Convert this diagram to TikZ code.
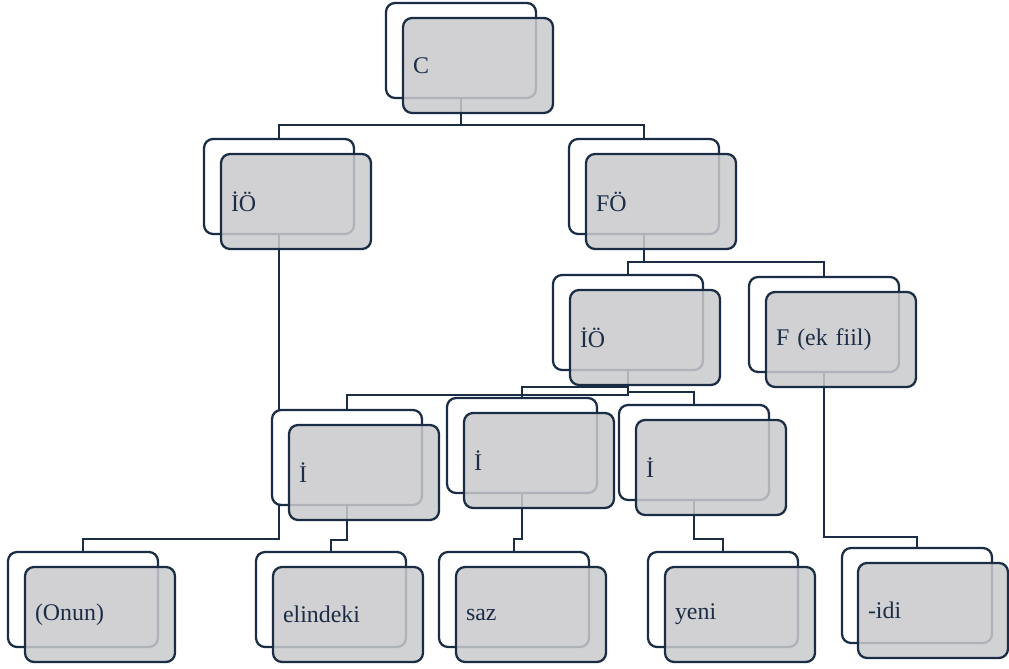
\documentclass[tikz,border=0pt]{standalone}
\usepackage{fontspec}
\setmainfont{Liberation Serif}
\usepackage{xcolor}
\usetikzlibrary{backgrounds}
\definecolor{navy}{HTML}{1B2D45}
\definecolor{boxgray}{HTML}{C9CACD}

\begin{document}
\begin{tikzpicture}[x=0.02cm, y=-0.02cm,
    back/.style={draw=navy, line width=1.3pt, fill=white, rounded corners=0.18cm,
        minimum width=3cm, minimum height=1.9cm, inner sep=0pt},
    front/.style={draw=navy, line width=1.3pt, fill=boxgray, fill opacity=0.85, text opacity=1,
        rounded corners=0.18cm, minimum width=3cm, minimum height=1.9cm,
        text width=2.6cm, inner xsep=0.2cm, inner ysep=0pt, align=left,
        font=\fontsize{13.6}{16}\selectfont, text=navy},
    link/.style={draw=navy, line width=1.15pt}]
    % Sentence tree: C -> IÖ, FÖ
    \useasboundingbox (0,0) rectangle (1009,669);

    \node[back] (cb) at (461,50.5) {};
    \node[front] (c) at (478,65.5) {C};

    \node[back] (iob) at (279,186.5) {};
    \node[front] (io) at (296,201.5) {İÖ};
    \node[back] (fob) at (644,186.5) {};
    \node[front] (fo) at (661,201.5) {FÖ};

    \node[back] (io2b) at (628,322.5) {};
    \node[front] (io2) at (645,337.5) {İÖ};
    \node[back] (fb) at (824,324.5) {};
    \node[front] (f) at (841,339.5) {F (ek fiil)};

    \node[back] (i1b) at (347,457.5) {};
    \node[front] (i1) at (364,472.5) {İ};
    \node[back] (i2b) at (522,445.5) {};
    \node[front] (i2) at (539,460.5) {İ};
    \node[back] (i3b) at (694,452.5) {};
    \node[front] (i3) at (711,467.5) {İ};

    \node[back] (onunb) at (83,599.5) {};
    \node[front] (onun) at (100,614.5) {(Onun)};
    \node[back] (elindekib) at (331,599.5) {};
    \node[front] (elindeki) at (348,614.5) {elindeki};
    \node[back] (sazb) at (514,599.5) {};
    \node[front] (saz) at (531,614.5) {saz};
    \node[back] (yenib) at (723,599.5) {};
    \node[front] (yeni) at (740,614.5) {yeni};
    \node[back] (idib) at (917,595.5) {};
    \node[front] (idi) at (933,610.5) {-idi};

    % elbow links behind the boxes
    \begin{pgfonlayer}{background}
    \draw[link] (cb.south) -- (cb.south |- 0,125) -| (iob.north);
    \draw[link] (cb.south |- 0,125) -| (fob.north);
    \draw[link] (iob.south) -- (iob.south |- 0,539) -| (onunb.north);
    \draw[link] (fob.south) -- (fob.south |- 0,262) -| (io2b.north);
    \draw[link] (fob.south |- 0,262) -| (fb.north);
    \draw[link] (io2b.south) -- (io2b.south |- 0,395) -| (i1b.north);
    \draw[link] (io2b.south) -- (io2b.south |- 0,387) -| (i2b.north);
    \draw[link] (io2b.south) -- (io2b.south |- 0,392) -| (i3b.north);
    \draw[link] (fb.south) -- (fb.south |- 0,537) -| (idib.north);
    \draw[link] (i1b.south) -- (i1b.south |- 0,540) -| (elindekib.north);
    \draw[link] (i2b.south) -- (i2b.south |- 0,539) -| (sazb.north);
    \draw[link] (i3b.south) -- (i3b.south |- 0,539) -| (yenib.north);
    \end{pgfonlayer}
\end{tikzpicture}
\end{document}
